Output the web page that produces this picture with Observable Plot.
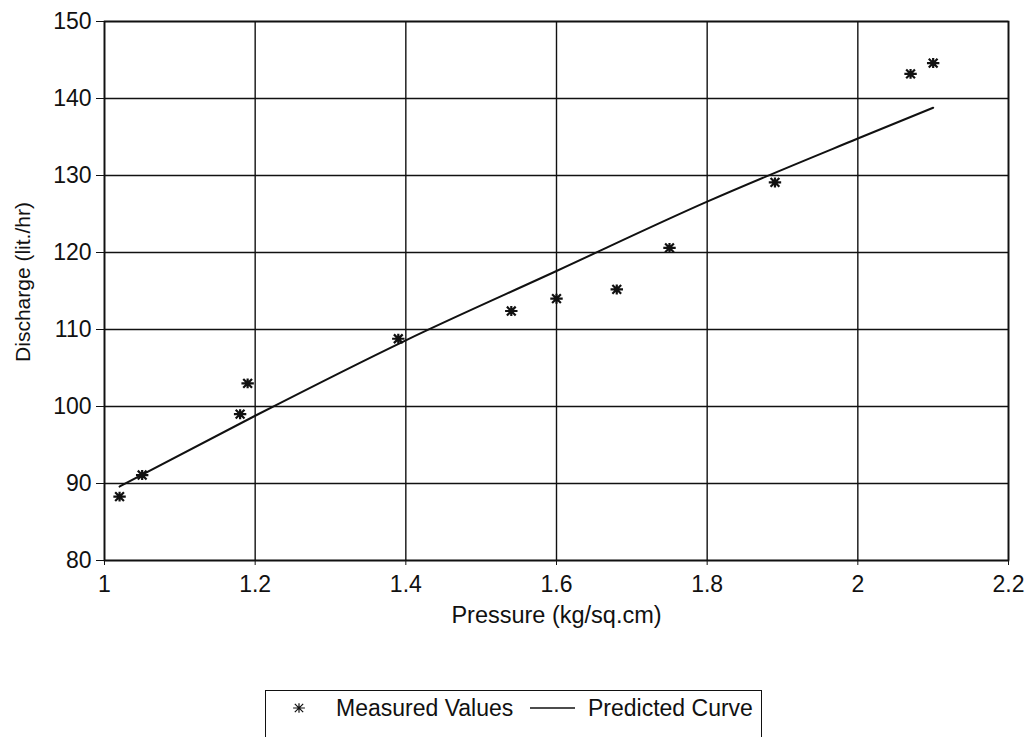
<!DOCTYPE html>
<html>
<head>
<meta charset="utf-8">
<script src="https://cdn.jsdelivr.net/npm/d3@7"></script>
<script src="https://cdn.jsdelivr.net/npm/@observablehq/plot@0.6"></script>
<style>
  html, body { margin: 0; padding: 0; background: #fff; overflow: hidden; }
  body { width: 1027px; height: 737px; position: relative; font-family: "Liberation Sans", Arial, sans-serif; }
  #legend { position: absolute; left: 265px; top: 690px; width: 497px; height: 70px;
    border: 1.5px solid #111; box-sizing: border-box; font-size: 23px; color: #111; }
  #legend > * { position: absolute; }
</style>
</head>
<body>
<div id="chart"></div>
<div id="legend"></div>
<script>
// Measured values
const measuredPressure = [1.02, 1.05, 1.18, 1.19, 1.39, 1.54, 1.60, 1.68, 1.75, 1.89, 2.07, 2.10];
const measuredDischarge = [88.3, 91.1, 99.0, 103.0, 108.8, 112.4, 114.0, 115.2, 120.6, 129.1, 143.2, 144.6];
// Predicted curve
const predictedPressure = [1.02, 1.2, 1.4, 1.6, 1.8, 2.0, 2.1];
const predictedDischarge = [89.6, 98.8, 108.6, 117.6, 126.6, 134.8, 138.8];
// Axes
const xTicks = [1, 1.2, 1.4, 1.6, 1.8, 2, 2.2];
const yTicks = [80, 90, 100, 110, 120, 130, 140, 150];
const xLabel = "Pressure (kg/sq.cm)";
const yLabel = "Discharge (lit./hr)";
const legendLabels = ["Measured Values", "Predicted Curve"];

const measured = measuredPressure.map((p, i) => ({p, q: measuredDischarge[i]}));
const predicted = predictedPressure.map((p, i) => ({p, q: predictedDischarge[i]}));

// 8-armed asterisk symbol
const star8 = {
  draw(context, size) {
    const r = Math.sqrt(size) / 2;
    const d = r * Math.SQRT1_2;
    context.moveTo(-r, 0); context.lineTo(r, 0);
    context.moveTo(0, -r * 0.8); context.lineTo(0, r * 0.8);
    context.moveTo(-d, -d); context.lineTo(d, d);
    context.moveTo(-d, d); context.lineTo(d, -d);
  }
};

const chart = Plot.plot({
  width: 1027,
  height: 640,
  marginLeft: 104,
  marginRight: 19,
  marginTop: 21,
  marginBottom: 80,
  style: { fontFamily: "Liberation Sans, Arial, sans-serif", fontSize: "23px", color: "#111", background: "#fff" },
  x: { domain: [1, 2.2] },
  y: { domain: [80, 150] },
  marks: [
    Plot.gridX(xTicks, { stroke: "#111", strokeOpacity: 1, strokeWidth: 1.4 }),
    Plot.gridY(yTicks, { stroke: "#111", strokeOpacity: 1, strokeWidth: 1.4 }),
    Plot.frame({ stroke: "#111", strokeWidth: 1.7 }),
    Plot.axisX(xTicks, { tickSize: 5, tickPadding: 10, tickFormat: d => String(d), label: null, fontSize: 23 }),
    Plot.axisY(yTicks, { tickSize: 8, tickPadding: 5, label: null, fontSize: 23 }),
    Plot.text([xLabel], { frameAnchor: "bottom", dy: 62, fontSize: 23.5, text: d => d }),
    Plot.text([yLabel], { frameAnchor: "left", textAnchor: "middle", dx: -81, dy: -9, rotate: -90, fontSize: 21, text: d => d }),
    Plot.line(predicted, { x: "p", y: "q", stroke: "#111", strokeWidth: 2, curve: "monotone-x" }),
    Plot.dot(measured, { x: "p", y: "q", symbol: star8, r: 7, stroke: "#111", strokeWidth: 2.2 })
  ]
});
document.getElementById("chart").appendChild(chart);

// Legend
const leg = document.getElementById("legend");
const ns = "http://www.w3.org/2000/svg";
function place(el, left, top) { el.style.left = left + "px"; el.style.top = top + "px"; leg.appendChild(el); }
const s1 = document.createElementNS(ns, "svg");
s1.setAttribute("width", 20); s1.setAttribute("height", 20);
const p1 = document.createElementNS(ns, "path");
p1.setAttribute("d", d3.symbol(star8, 140)());
p1.setAttribute("transform", "translate(10,10)");
p1.setAttribute("stroke", "#111"); p1.setAttribute("stroke-width", 1.2); p1.setAttribute("fill", "none");
s1.appendChild(p1);
place(s1, 23, 7);
const t1 = document.createElement("span"); t1.textContent = legendLabels[0];
place(t1, 70, 4);
const s2 = document.createElementNS(ns, "svg");
s2.setAttribute("width", 48); s2.setAttribute("height", 20);
const l2 = document.createElementNS(ns, "line");
l2.setAttribute("x1", 1); l2.setAttribute("x2", 46); l2.setAttribute("y1", 10); l2.setAttribute("y2", 10);
l2.setAttribute("stroke", "#111"); l2.setAttribute("stroke-width", 1.6);
s2.appendChild(l2);
place(s2, 263, 7);
const t2 = document.createElement("span"); t2.textContent = legendLabels[1];
place(t2, 322, 4);
</script>
</body>
</html>
